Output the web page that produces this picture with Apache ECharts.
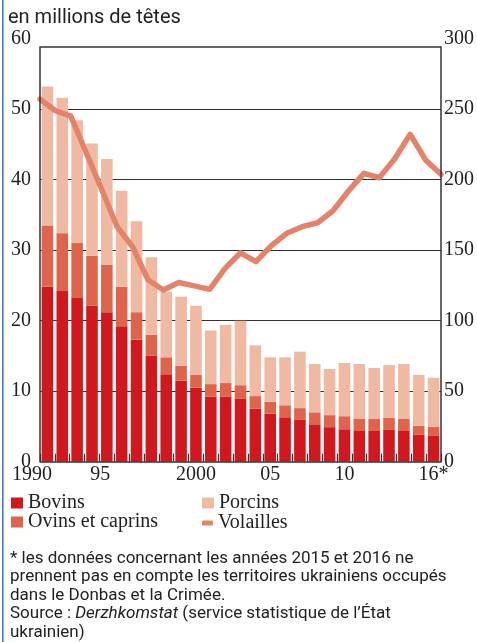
<!DOCTYPE html>
<html>
<head>
<meta charset="utf-8">
<script src="https://cdn.jsdelivr.net/npm/echarts@6/dist/echarts.min.js"></script>
<style>
html,body{margin:0;padding:0;background:#fff;}
#c{width:477px;height:642px;}
</style>
</head>
<body>
<div id="c"></div>
<script>
// ---- data ----
const years = ['1990','1991','1992','1993','1994','1995','1996','1997','1998','1999','2000','2001','2002','2003','2004','2005','2006','2007','2008','2009','2010','2011','2012','2013','2014','2015','2016'];
const bovins  = [24.8, 24.2, 23.2, 22.1, 21.2, 19.2, 17.3, 15.0, 12.4, 11.5, 10.5, 9.2, 9.2, 8.9, 7.5, 6.8, 6.3, 6.0, 5.3, 4.9, 4.6, 4.35, 4.35, 4.5, 4.35, 3.8, 3.65];
const ovins   = [8.7, 8.2, 7.8, 7.1, 6.7, 5.6, 3.9, 3.0, 2.4, 2.1, 1.8, 1.8, 1.95, 1.95, 1.8, 1.7, 1.7, 1.6, 1.7, 1.7, 1.85, 1.7, 1.7, 1.7, 1.7, 1.3, 1.3];
const porcins = [19.7, 19.2, 17.4, 15.9, 15.0, 13.6, 12.9, 11.0, 9.3, 9.8, 9.8, 7.6, 8.25, 9.15, 7.2, 6.3, 6.8, 8.0, 6.85, 6.55, 7.55, 7.8, 7.25, 7.5, 7.8, 7.2, 6.95];
const volailles = [257, 248.8, 245, 219, 193, 166.6, 152.4, 129, 121.7, 127, 124.6, 122.2, 137, 148.1, 141.8, 153.1, 161.9, 166.6, 169.4, 177.9, 191.9, 204.4, 201.3, 214.8, 232.1, 213.9, 203.7];
const xTickLabels = {'1990':'1990','1995':'95','2000':'2000','2005':'05','2010':'10','2016':'16*'};
const leftAxis  = {min: 0, max: 60, interval: 10};
const rightAxis = {min: 0, max: 300, interval: 50};
const frameTopValue = 58.8;

const SERIF = '"Liberation Serif", "DejaVu Serif", serif';
const C_BOV = '#d0181e', C_OV = '#e0644b', C_POR = '#f0b9a2', C_VOL = '#e5836a';
const AX = '#333';

const chart = echarts.init(document.getElementById('c'), null, {renderer: 'canvas'});

function legendItem(name, left, top, w, h, icon) {
  return {left: left, top: top, padding: 0, itemWidth: w, itemHeight: h, icon: icon, selectedMode: false,
          data: [name], textStyle: {fontFamily: SERIF, fontSize: 20, color: '#222'}};
}

const option = {
  animation: false,
  backgroundColor: '#fff',
  grid: {left: 40, right: 31, top: 38.5, bottom: 180.3, containLabel: false},
  legend: [
    legendItem('Bovins', 11, 493, 12, 11, 'rect'),
    legendItem('Porcins', 202, 493, 12, 11, 'rect'),
    legendItem('Ovins et caprins', 11, 512, 12, 11, 'rect'),
    legendItem('Volailles', 202, 513, 11, 5, 'roundRect')
  ],
  xAxis: [
    {type: 'category', data: years, boundaryGap: true,
     axisLine: {show: true, lineStyle: {color: AX, width: 1.5}},
     axisTick: {show: true, inside: true, length: 8, interval: 0, lineStyle: {color: AX, width: 1.2}},
     axisLabel: {
       interval: (i, v) => xTickLabels[v] !== undefined,
       margin: 3,
       fontFamily: SERIF, fontSize: 20, color: '#222',
       formatter: (v) => {
         const t = xTickLabels[v];
         if (v === '1990') return '{a|' + t + '}';
         if (v === '1995') return '{b|' + t + '}';
         return '{n|' + t + '}';
       },
       rich: {
         a: {fontFamily: SERIF, fontSize: 20, color: '#222', padding: [0, 31, 0, 0]},
         b: {fontFamily: SERIF, fontSize: 20, color: '#222', padding: [0, 43, 0, 0]},
         n: {fontFamily: SERIF, fontSize: 20, color: '#222'}
       }
     },
     splitLine: {show: false}, z: 5},
    {type: 'category', data: years, boundaryGap: false, show: false}
  ],
  yAxis: [
    {type: 'value', min: leftAxis.min, max: leftAxis.max, interval: leftAxis.interval, position: 'left',
     axisLine: {show: false}, axisTick: {show: false},
     axisLabel: {margin: 9, fontFamily: SERIF, fontSize: 20, color: '#222'},
     splitLine: {show: true, showMinLine: false, showMaxLine: false, lineStyle: {color: AX, width: 1}}},
    {type: 'value', min: rightAxis.min, max: rightAxis.max, interval: rightAxis.interval, position: 'right',
     axisLine: {show: false}, axisTick: {show: false},
     axisLabel: {margin: 3, fontFamily: SERIF, fontSize: 20, color: '#222'},
     splitLine: {show: false}}
  ],
  series: [
    {name: 'Bovins', type: 'bar', stack: 'a', data: bovins, itemStyle: {color: C_BOV}, barCategoryGap: '22%', z: 2},
    {name: 'Ovins et caprins', type: 'bar', stack: 'a', data: ovins, itemStyle: {color: C_OV}, z: 2},
    {name: 'Porcins', type: 'bar', stack: 'a', data: porcins, itemStyle: {color: C_POR}, z: 2},
    {name: 'Volailles', type: 'line', xAxisIndex: 1, yAxisIndex: 1, data: volailles, showSymbol: false, symbol: 'none',
     lineStyle: {color: C_VOL, width: 5.5, cap: 'round', join: 'round'}, itemStyle: {color: C_VOL}, z: 4}
  ]
};
chart.setOption(option);

// frame and text decorations
const x0 = chart.convertToPixel({xAxisIndex: 1}, years[0]);
const x1 = chart.convertToPixel({xAxisIndex: 1}, years[years.length - 1]);
const yTop = chart.convertToPixel({yAxisIndex: 0}, frameTopValue);
const yBot = chart.convertToPixel({yAxisIndex: 0}, 0);

chart.setOption({
  graphic: [
    {type: 'rect', left: 2, top: 0, shape: {width: 1.6, height: 642}, style: {fill: '#3d7cc2'}, silent: true},
    {type: 'polyline', shape: {points: [[x0, yBot], [x0, yTop], [x1, yTop], [x1, yBot]]},
     style: {stroke: AX, lineWidth: 1.5, fill: null}, z: 10, silent: true},
    {type: 'text', left: 8, top: 8, style: {text: 'en millions de têtes', font: '20px Roboto', fill: '#222'}},
    {type: 'text', left: 10, top: 549, style: {
      text: '* les données concernant les années 2015 et 2016 ne\nprennent pas en compte les territoires ukrainiens occupés\ndans le Donbas et la Crimée.\nSource : {i|Derzhkomstat} (service statistique de l’État\nukrainien)',
      font: '17px Roboto', fill: '#222', lineHeight: 18.5,
      rich: {i: {fontStyle: 'italic', fontFamily: 'Roboto', fontSize: 17, fill: '#222', lineHeight: 18.5}}
    }}
  ]
});
</script>
</body>
</html>
